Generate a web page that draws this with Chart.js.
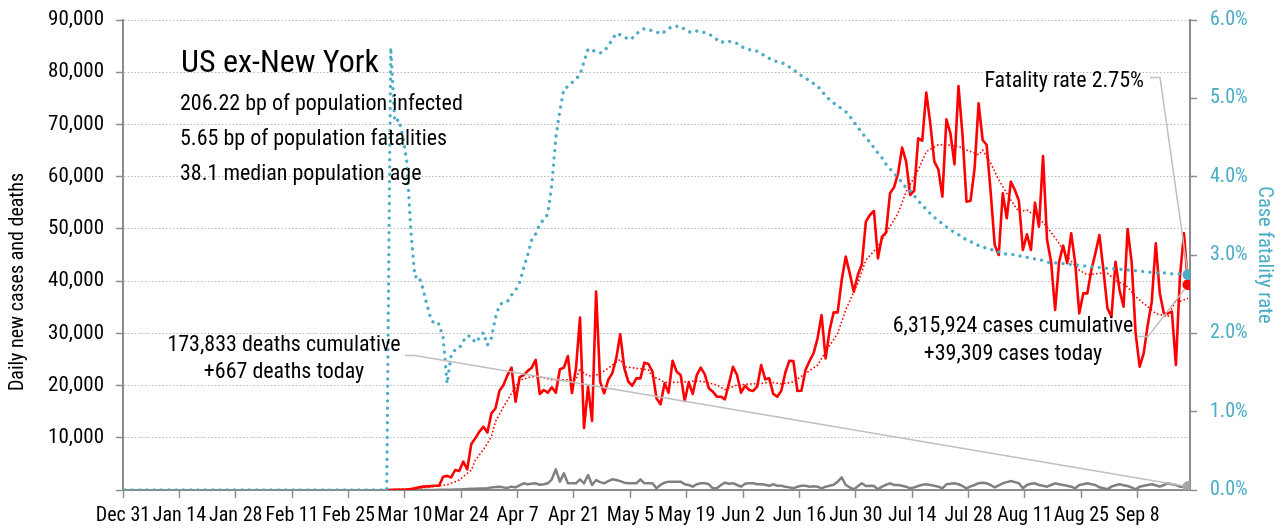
<!DOCTYPE html>
<html>
<head>
<meta charset="utf-8">
<script src="https://cdn.jsdelivr.net/npm/chart.js@4.4.1/dist/chart.umd.min.js"></script>
<style>
  html, body { margin: 0; padding: 0; background: #fff; }
</style>
</head>
<body>
<canvas id="chart" width="1276" height="529"></canvas>
<script>
const FONT = '"Liberation Sans Narrow", "Arial Narrow", "Roboto Condensed", "DejaVu Sans Condensed", sans-serif';

// day 0 = Dec 31 2019, one tick every two weeks
const tickDays = [0, 14, 28, 42, 56, 70, 84, 98, 112, 126, 140, 154, 168, 182, 196, 210, 224, 238, 252];
const tickLabels = ['Dec 31', 'Jan 14', 'Jan 28', 'Feb 11', 'Feb 25', 'Mar 10', 'Mar 24', 'Apr 7', 'Apr 21',
  'May 5', 'May 19', 'Jun 2', 'Jun 16', 'Jun 30', 'Jul 14', 'Jul 28', 'Aug 11', 'Aug 25', 'Sep 8'];
const axisDays = 265;

// daily new cases, from day 65 (Mar 5)
const casesStart = 65;
const cases = [
  0, 0, 20, 40, 60, 100, 200, 350, 500, 650,
  700, 750, 800, 800, 2550, 2700, 2400, 3830, 3640, 5420,
  3960, 8810, 9900, 11170, 12100, 11000, 14680, 15600, 19020, 20100,
  22000, 23420, 16900, 21600, 22000, 22790, 23420, 24900, 18380, 19150,
  18640, 19660, 18640, 23110, 23420, 25660, 18570, 23300, 33000, 11870,
  19800, 13210, 37980, 20750, 18520, 21060, 22340, 25210, 29810, 23360,
  20740, 19970, 21380, 21380, 24380, 24130, 22660, 17560, 16410, 20430,
  18640, 24760, 22660, 22020, 17040, 20620, 18400, 21980, 23420, 22150,
  19470, 18830, 17870, 17870, 17370, 20430, 23610, 22020, 18640, 19970,
  19150, 18960, 19790, 23940, 21190, 21380, 18400, 17870, 19000, 22500,
  24760, 24700, 18960, 19020, 22980, 24700, 26170, 29050, 33510, 25210,
  30640, 34020, 34020, 40210, 44680, 41490, 37980, 41170, 43220, 51390,
  52660, 53430, 44360, 48500, 49270, 56820, 57960, 60640, 65560, 62870,
  56490, 57320, 67350, 66900, 76090, 70220, 62870, 61410, 56170, 70980,
  68310, 62360, 77370, 67980, 55210, 55400, 61600, 74050, 67020, 66060,
  57000, 46920, 45000, 56820, 52030, 59040, 57450, 55400, 45960, 48960,
  45960, 55020, 50420, 63960, 47870, 43720, 34470, 43720, 46790, 43410,
  49150, 43410, 33830, 37660, 37660, 42130, 45320, 48830, 42130, 34790,
  33190, 43720, 38300, 35100, 49980, 43720, 30000, 23610, 26170, 31600,
  36060, 47240, 37660, 33830, 33830, 34150, 23940, 40850, 49150, 39309
];

// daily new deaths, from day 65
const deathsStart = 65;
const deaths = [
  0, 0, 0, 0, 0, 0, 0, 0, 0, 0,
  10, 15, 20, 30, 40, 50, 70, 90, 110, 140,
  180, 220, 250, 280, 300, 320, 500, 560, 640, 500,
  400, 640, 500, 900, 1280, 1100, 1200, 1280, 1000, 1100,
  1280, 2050, 3960, 1600, 3190, 1280, 1280, 1280, 2050, 1280,
  2870, 960, 1900, 1500, 1280, 1700, 2050, 1900, 1700, 1400,
  1280, 1280, 1280, 2050, 1280, 1280, 1280, 320, 1000, 1400,
  1600, 1600, 1600, 1600, 1100, 960, 640, 1100, 1280, 1280,
  1100, 320, 320, 960, 1400, 1200, 1300, 960, 640, 1200,
  1300, 1300, 1100, 1100, 1000, 800, 1100, 800, 800, 640,
  500, 320, 640, 800, 800, 640, 700, 640, 320, 640,
  800, 1000, 1600, 2430, 960, 500, 130, 700, 1280, 770,
  800, 770, 130, 640, 1000, 1280, 960, 960, 800, 640,
  320, 500, 770, 1000, 1100, 960, 800, 640, 320, 1100,
  1200, 1280, 1100, 770, 320, 700, 960, 1300, 1400, 1280,
  960, 510, 900, 1280, 1500, 1730, 1500, 1280, 320, 960,
  1200, 1280, 960, 800, 640, 960, 1280, 1100, 960, 800,
  640, 320, 960, 1100, 1280, 1100, 960, 510, 320, 130,
  640, 900, 1100, 900, 770, 510, 130, 640, 800, 960,
  1100, 900, 640, 960, 1280, 1100, 960, 640, 640, 667
];

// case fatality rate in %, from day 0
const cfrStart = 0;
const cfr = [
  0, 0, 0, 0, 0, 0, 0, 0, 0, 0, 0, 0, 0, 0, 0, 0, 0, 0, 0, 0, 0, 0,
  0, 0, 0, 0, 0, 0, 0, 0, 0, 0, 0, 0, 0, 0, 0, 0, 0, 0, 0, 0, 0, 0,
  0, 0, 0, 0, 0, 0, 0, 0, 0, 0, 0, 0, 0, 0, 0, 0, 0, 0, 0, 0, 0, 0,
  5.65, 4.70, 4.73, 4.52, 4.18, 3.30, 2.72, 2.73, 2.57, 2.36, 2.18, 2.11,
  2.12, 1.95, 1.36, 1.72, 1.79, 1.81, 1.90, 1.97, 1.96, 1.88, 1.94, 2.01,
  1.85, 1.94, 2.20, 2.36, 2.40, 2.41, 2.49, 2.55, 2.65, 2.83, 3.00,
  3.19, 3.27, 3.40, 3.45, 3.52, 3.90, 4.50, 4.84, 5.12, 5.15,
  5.20, 5.25, 5.30, 5.47, 5.63, 5.62, 5.59, 5.58, 5.60, 5.67,
  5.75, 5.83, 5.81, 5.79, 5.75, 5.77, 5.82, 5.87, 5.89, 5.88,
  5.86, 5.85, 5.82, 5.85, 5.89, 5.92, 5.92, 5.92, 5.88, 5.85,
  5.84, 5.86, 5.85, 5.84, 5.82, 5.79, 5.75, 5.71, 5.73, 5.73,
  5.71, 5.70, 5.66, 5.64, 5.62, 5.62, 5.60, 5.57, 5.54, 5.51,
  5.48, 5.47, 5.46, 5.43, 5.40, 5.37, 5.32, 5.29, 5.26, 5.22,
  5.19, 5.16, 5.09, 5.04, 4.98, 4.94, 4.90, 4.87, 4.83, 4.77,
  4.70, 4.63, 4.56, 4.50, 4.44, 4.37, 4.30, 4.24, 4.16, 4.10,
  4.04, 3.99, 3.92, 3.86, 3.82, 3.76, 3.69, 3.64, 3.58, 3.53,
  3.48, 3.44, 3.40, 3.36, 3.32, 3.29, 3.26, 3.23, 3.19, 3.17,
  3.15, 3.12, 3.11, 3.08, 3.07, 3.06, 3.04, 3.02, 3.01, 3.01,
  3.00, 2.99, 2.98, 2.97, 2.96, 2.95, 2.94, 2.93, 2.91, 2.90,
  2.90, 2.89, 2.89, 2.88, 2.88, 2.87, 2.87, 2.86, 2.86, 2.85,
  2.85, 2.84, 2.83, 2.83, 2.83, 2.82, 2.82, 2.81, 2.81, 2.80,
  2.80, 2.79, 2.79, 2.78, 2.78, 2.77, 2.77, 2.77, 2.77, 2.76,
  2.76, 2.76, 2.75, 2.75
];

const avgDays = [65, 72, 76, 80, 83, 86, 87, 89, 91, 92, 94, 96, 98, 101, 103, 106, 109, 112, 113, 114,
  116, 118, 120, 121, 123, 124, 125, 127, 130, 131, 133, 134, 137, 139, 142, 144, 147, 149, 152, 155,
  158, 160, 163, 166, 169, 172, 174, 177, 179, 182, 184, 187, 189, 192, 194, 197, 199, 202, 204, 207,
  209, 212, 213, 215, 217, 220, 222, 224, 227, 229, 232, 234, 237, 239, 242, 244, 246, 249, 251, 254,
  256, 259, 261, 262, 264];
const avgCases = [0, 300, 600, 1000, 1900, 3800, 5700, 7700, 10200, 13100, 15900, 18500, 21000, 21700, 21700, 21100, 21100, 21100, 23300, 22300,
  21700, 22300, 23300, 23900, 25000, 23600, 23500, 23300, 23000, 21700, 21100, 20600, 20600, 20700, 20900, 20700, 20100, 19200, 20100, 20300,
  20400, 20700, 20300, 20700, 22300, 23900, 26500, 30000, 34500, 39600, 44000, 46600, 49200, 53000, 57100, 61300, 64800, 66100, 66100, 65800,
  65100, 64200, 65100, 62600, 59400, 55500, 53300, 53600, 52000, 50400, 47200, 44700, 42100, 41200, 41500, 41500, 40200, 38900, 37000, 35100,
  33800, 33200, 36400, 36100, 36700];

const headline = 'US ex-New York';
const infoLines = ['206.22 bp of population infected', '5.65 bp of population fatalities', '38.1 median population age'];
const deathsNote = ['173,833 deaths cumulative', '+667 deaths today'];
const casesNote = ['6,315,924 cases cumulative', '+39,309 cases today'];
const rateNote = 'Fatality rate 2.75%';
const leftTitle = 'Daily new cases and deaths';

const BLUE = '#4bacc6';
const RED = '#ff0000';
const GREY = '#808080';
const AXIS = '#8c8c8c';

// each day sits in the middle of its slot
function toPoints(start, values) {
  return values.map((v, i) => ({ x: start + i + 0.5, y: v }));
}
function lastDot(r, n) {
  return ctx => (ctx.dataIndex === n - 1 ? r : 0);
}
// fixed width, and no extra room for the top/bottom tick labels
function fixWidth(w) {
  return s => { s.width = w; s.paddingTop = 0; s.paddingBottom = 0; };
}

function leader(c, pts, end, r) {
  const prev = pts[pts.length - 1];
  const dx = end.x - prev.x, dy = end.y - prev.y;
  const len = Math.hypot(dx, dy);
  c.beginPath();
  c.moveTo(pts[0].x, pts[0].y);
  for (let i = 1; i < pts.length; i++) c.lineTo(pts[i].x, pts[i].y);
  c.lineTo(end.x - dx / len * r, end.y - dy / len * r);
  c.stroke();
}

const notes = {
  id: 'notes',
  afterDatasetsDraw(chart) {
    const c = chart.ctx;
    const endOf = i => {
      const d = chart.getDatasetMeta(i).data;
      return d[d.length - 1];
    };
    c.save();
    c.fillStyle = '#000';
    c.textBaseline = 'alphabetic';

    c.textAlign = 'left';
    c.font = '32px ' + FONT;
    c.fillText(headline, 181, 72);
    c.font = '22px ' + FONT;
    infoLines.forEach((t, i) => c.fillText(t, 180, 110 + i * 35));

    c.textAlign = 'center';
    c.fillText(deathsNote[0], 284, 351);
    c.fillText(deathsNote[1], 284, 378);
    c.fillText(casesNote[0], 1013, 332);
    c.fillText(casesNote[1], 1013, 360);
    c.textAlign = 'right';
    c.fillText(rateNote, 1144, 87);

    // left axis title, a bit below the middle as in the original
    c.save();
    c.translate(18, 282);
    c.rotate(-Math.PI / 2);
    c.textAlign = 'center';
    c.textBaseline = 'middle';
    c.font = '20px ' + FONT;
    c.fillText(leftTitle, 0, 0);
    c.restore();

    c.strokeStyle = '#bfbfbf';
    c.lineWidth = 1.5;
    leader(c, [{ x: 405, y: 355.5 }, { x: 415, y: 355.5 }], endOf(3), 5);
    leader(c, [{ x: 1137, y: 336.5 }, { x: 1148, y: 336.5 }], endOf(1), 5);
    leader(c, [{ x: 1150, y: 77.5 }, { x: 1160, y: 77.5 }], endOf(0), 5);
    c.restore();
  }
};

new Chart(document.getElementById('chart'), {
  type: 'line',
  data: {
    datasets: [
      {
        label: 'Case fatality rate',
        data: toPoints(cfrStart, cfr),
        yAxisID: 'y1',
        borderColor: BLUE,
        borderWidth: 3.3,
        borderDash: [0.01, 7.3],
        borderCapStyle: 'round',
        pointRadius: lastDot(5.5, cfr.length),
        pointBackgroundColor: BLUE,
        pointBorderWidth: 0
      },
      {
        label: 'Daily new cases',
        data: toPoints(casesStart, cases),
        borderColor: RED,
        borderWidth: 2.6,
        borderJoinStyle: 'round',
        pointRadius: lastDot(5.5, cases.length),
        pointBackgroundColor: RED,
        pointBorderWidth: 0
      },
      {
        label: '7 day average',
        data: avgDays.map((d, i) => ({ x: d + 0.5, y: avgCases[i] })),
        borderColor: RED,
        borderWidth: 1.6,
        borderDash: [1.6, 2.2],
        pointRadius: 0
      },
      {
        label: 'Daily new deaths',
        data: toPoints(deathsStart, deaths),
        borderColor: GREY,
        borderWidth: 2.5,
        borderJoinStyle: 'round',
        pointRadius: lastDot(5.5, deaths.length),
        pointBackgroundColor: '#a6a6a6',
        pointBorderWidth: 0
      }
    ]
  },
  options: {
    responsive: false,
    animation: false,
    events: [],
    layout: { padding: { top: 20, right: 0, bottom: 0, left: 0 } },
    plugins: { legend: { display: false }, tooltip: { enabled: false } },
    scales: {
      x: {
        type: 'linear',
        min: 0,
        max: axisDays,
        afterBuildTicks: s => { s.ticks = tickDays.map(v => ({ value: v })); },
        afterFit: s => { s.height = 39; },
        ticks: {
          autoSkip: false,
          maxRotation: 0,
          padding: 6,
          color: '#000',
          font: { family: FONT, size: 20 },
          callback: v => tickLabels[tickDays.indexOf(v)]
        },
        grid: { drawOnChartArea: false, tickLength: 8, tickColor: AXIS, tickWidth: 1.5 },
        border: { color: AXIS, width: 2 }
      },
      y: {
        position: 'left',
        min: 0,
        max: 90000,
        afterFit: fixWidth(123),
        ticks: {
          stepSize: 10000,
          padding: 12,
          color: '#000',
          font: { family: FONT, size: 21 },
          callback: v => (v === 0 ? '' : v.toLocaleString('en-US'))
        },
        grid: { color: '#bcbcbc', lineWidth: 1, tickLength: 7, tickColor: AXIS, tickWidth: 1.5 },
        border: { color: AXIS, width: 2, dash: [1.5, 2] }
      },
      y1: {
        position: 'right',
        min: 0,
        max: 6,
        afterFit: fixWidth(86),
        ticks: {
          stepSize: 1,
          padding: 13,
          color: BLUE,
          font: { family: FONT, size: 20 },
          callback: v => v.toFixed(1) + '%'
        },
        grid: { drawOnChartArea: false, tickLength: 7, tickColor: AXIS, tickWidth: 1.5 },
        border: { color: AXIS, width: 2 },
        title: {
          display: true,
          text: 'Case fatality rate',
          color: BLUE,
          font: { family: FONT, size: 20.5 },
          padding: { top: 0, bottom: 0 }
        }
      }
    }
  },
  plugins: [notes]
});
</script>
</body>
</html>
